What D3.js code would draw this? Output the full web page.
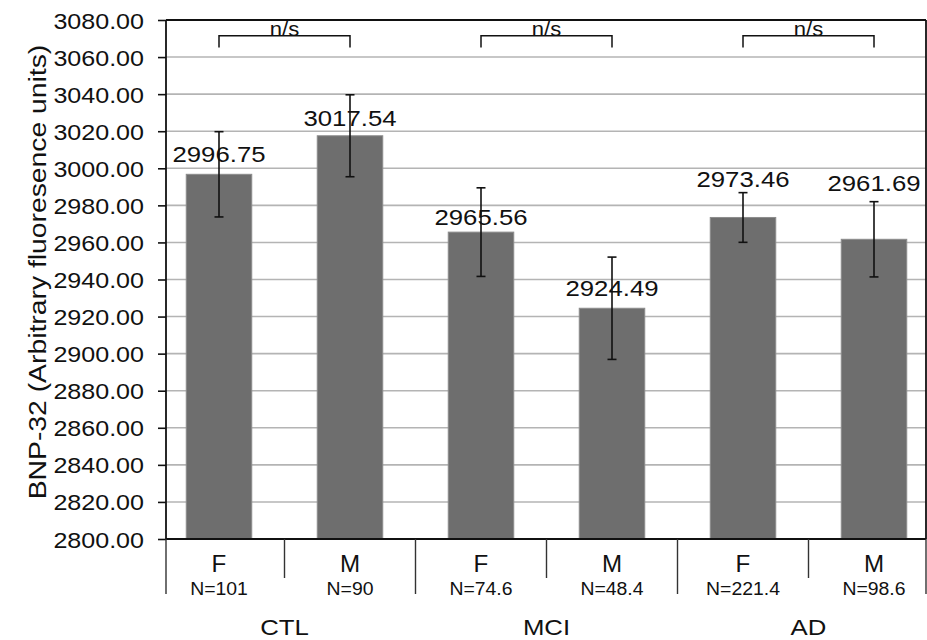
<!DOCTYPE html>
<html>
<head>
<meta charset="utf-8">
<script src="https://cdn.jsdelivr.net/npm/d3@7"></script>
<style>
  html, body { margin: 0; padding: 0; background: #fff; }
  svg { display: block; font-family: "Liberation Sans", Arial, sans-serif; }
</style>
</head>
<body>
<svg id="chart" width="927" height="640"></svg>
<script>
// BNP-32 levels by sex within each diagnostic group
const groups = ["CTL", "MCI", "AD"];
const sexes = ["F", "M", "F", "M", "F", "M"];
const counts = ["N=101", "N=90", "N=74.6", "N=48.4", "N=221.4", "N=98.6"];
const means = [2996.75, 3017.54, 2965.56, 2924.49, 2973.46, 2961.69];
const errors = [23.0, 22.1, 23.9, 27.6, 13.4, 20.3];
const yTicks = [2800, 2820, 2840, 2860, 2880, 2900, 2920, 2940, 2960, 2980, 3000, 3020, 3040, 3060, 3080];
// significance brackets: bar index pairs and their label
const bracketPairs = [[0, 1], [2, 3], [4, 5]];
const bracketLabel = "n/s";
const bracketLevel = 3071.5;
const bracketDrop = 3065.2;
const yTitle = "BNP-32 (Arbitrary fluoresence units)";

const svg = d3.select("#chart");
const plotLeft = 166, plotRight = 926, plotTop = 20, plotBottom = 539;
// the typeface is set slightly wide
const wide = 1.12;
// distance of each value label's baseline above its bar top (hand placed)
const labelLift = [12, 9.5, 6.7, 12.6, 30, 48.7];

// turn a text's x/y into a transform so it can be widened about its anchor
function widen(sel, sx) {
  sel.each(function () {
    const t = d3.select(this);
    const tx = +t.attr("x") || 0, ty = +t.attr("y") || 0;
    t.attr("x", null).attr("y", null)
      .attr("transform", `translate(${tx},${ty}) scale(${sx},1)`);
  });
}

const y = d3.scaleLinear().domain([2800, 3080]).range([plotBottom, plotTop]);
const x = d3.scaleBand()
  .domain(d3.range(means.length))
  .range([153.5, 939.5])
  .paddingInner(0.5)
  .paddingOuter(0.25);
const step = x.step();
const cx = i => x(i) + x.bandwidth() / 2;

// horizontal gridlines
svg.append("g")
  .selectAll("line")
  .data(yTicks.filter(t => t !== 2800 && t !== 3080))
  .join("line")
  .attr("x1", plotLeft).attr("x2", plotRight)
  .attr("y1", d => y(d)).attr("y2", d => y(d))
  .attr("stroke", "#b4b4b4")
  .attr("stroke-width", 1.6);

// bars
svg.append("g")
  .selectAll("rect")
  .data(means)
  .join("rect")
  .attr("x", (d, i) => x(i))
  .attr("width", x.bandwidth())
  .attr("y", d => y(d))
  .attr("height", d => y(2800) - y(d))
  .attr("fill", "#6e6e6e")
  .attr("stroke", "#8c8c8c")
  .attr("stroke-width", 1);

// error bars
const eb = svg.append("g").attr("stroke", "#111").attr("stroke-width", 1.6);
means.forEach((m, i) => {
  const c = cx(i);
  eb.append("line").attr("x1", c).attr("x2", c).attr("y1", y(m + errors[i])).attr("y2", y(m - errors[i]));
  eb.append("line").attr("x1", c - 4.5).attr("x2", c + 4.5).attr("y1", y(m + errors[i])).attr("y2", y(m + errors[i]));
  eb.append("line").attr("x1", c - 4.5).attr("x2", c + 4.5).attr("y1", y(m - errors[i])).attr("y2", y(m - errors[i]));
});

// value labels above bars
svg.append("g")
  .selectAll("text")
  .data(means)
  .join("text")
  .attr("x", (d, i) => cx(i))
  .attr("y", (d, i) => y(d) - labelLift[i])
  .attr("text-anchor", "middle")
  .attr("font-size", 23)
  .attr("fill", "#111")
  .text(d => d.toFixed(2))
  .call(widen, wide);

// y axis
const yAxis = svg.append("g")
  .attr("transform", `translate(${plotLeft},0)`)
  .call(d3.axisLeft(y).tickValues(yTicks).tickSize(8).tickPadding(14).tickFormat(d3.format(".2f")));
yAxis.select(".domain").remove();
yAxis.selectAll(".tick line").attr("stroke", "#111").attr("stroke-width", 1.6);
yAxis.selectAll(".tick text")
  .attr("font-size", 22)
  .attr("fill", "#111")
  .attr("font-family", "Liberation Sans, Arial, sans-serif")
  .attr("y", 8)
  .attr("dy", null)
  .call(widen, 1.14);

// frame: left axis, bottom axis, top and right border
const frame = svg.append("g").attr("stroke", "#111").attr("stroke-width", 1.8).attr("fill", "none");
frame.append("line").attr("x1", plotLeft).attr("x2", plotLeft).attr("y1", plotTop).attr("y2", plotBottom);
frame.append("line").attr("x1", plotLeft).attr("x2", plotRight).attr("y1", plotBottom).attr("y2", plotBottom);
frame.append("line").attr("x1", plotLeft).attr("x2", plotRight).attr("y1", plotTop).attr("y2", plotTop);
frame.append("line").attr("x1", plotRight).attr("x2", plotRight).attr("y1", plotTop).attr("y2", plotBottom);

// category separators under the axis: long at group boundaries, short within groups
const sep = svg.append("g").attr("stroke", "#333").attr("stroke-width", 1.4);
d3.range(means.length + 1).forEach(k => {
  const xx = Math.min(Math.max(x(0) - step * 0.25 + k * step, plotLeft), plotRight);
  sep.append("line")
    .attr("x1", xx).attr("x2", xx)
    .attr("y1", plotBottom)
    .attr("y2", k % 2 === 0 ? 594 : 578);
});

// sex labels and sample sizes
svg.append("g").selectAll("text").data(sexes).join("text")
  .attr("x", (d, i) => cx(i)).attr("y", 572)
  .attr("text-anchor", "middle").attr("font-size", 23).attr("fill", "#111")
  .text(d => d)
  .call(widen, 1.05);
svg.append("g").selectAll("text").data(counts).join("text")
  .attr("x", (d, i) => cx(i)).attr("y", 595)
  .attr("text-anchor", "middle").attr("font-size", 18.5).attr("fill", "#111")
  .text(d => d)
  .call(widen, 1.05);

// group labels
svg.append("g").selectAll("text").data(groups).join("text")
  .attr("x", (d, i) => (cx(2 * i) + cx(2 * i + 1)) / 2).attr("y", 635)
  .attr("text-anchor", "middle").attr("font-size", 23).attr("fill", "#111")
  .text(d => d)
  .call(widen, wide);

// significance brackets
const br = svg.append("g");
bracketPairs.forEach(([a, b]) => {
  br.append("path")
    .attr("d", `M${cx(a)},${y(bracketDrop)}V${y(bracketLevel)}H${cx(b)}V${y(bracketDrop)}`)
    .attr("fill", "none").attr("stroke", "#111").attr("stroke-width", 1.5);
  br.append("text")
    .attr("x", (cx(a) + cx(b)) / 2).attr("y", y(bracketLevel))
    .attr("text-anchor", "middle").attr("font-size", 21).attr("fill", "#111")
    .text(bracketLabel)
    .call(widen, 1.05);
});

// y axis title
svg.append("text")
  .attr("transform", `translate(46,272) rotate(-90) scale(1.18,1)`)
  .attr("text-anchor", "middle")
  .attr("font-size", 24)
  .attr("fill", "#111")
  .text(yTitle);
</script>
</body>
</html>
